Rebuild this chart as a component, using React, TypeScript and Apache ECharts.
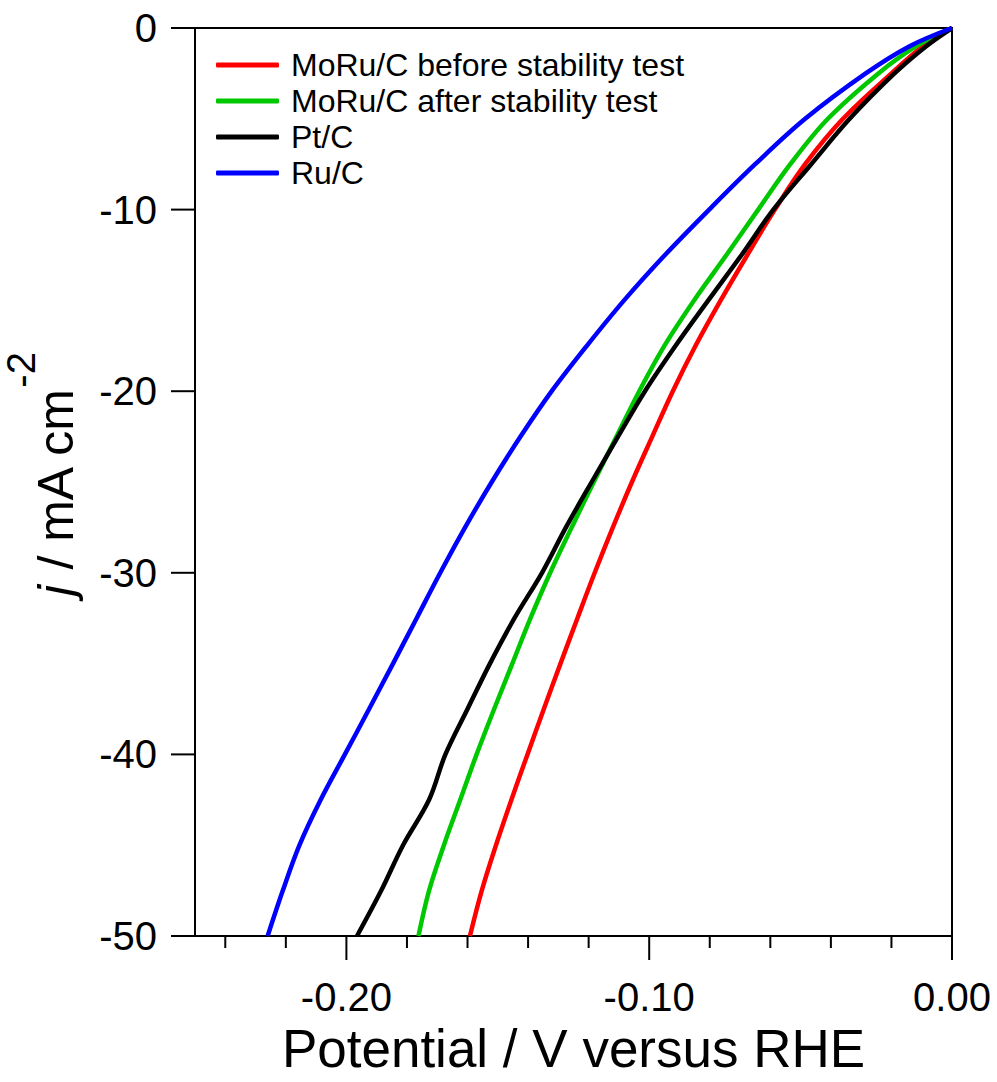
import React, { useEffect, useRef } from "react";
import * as echarts from "echarts";

const seriesNames = [
  "MoRu/C before stability test",
  "MoRu/C after stability test",
  "Pt/C",
  "Ru/C",
];
const seriesColors = ["#ff0000", "#00c800", "#000000", "#0000ff"];

// current density levels (mA cm^-2) at which the potentials were read
const currentJ = [0, -1, -2.5, -5, -7.5, -10, -12.5, -15, -17.5, -20, -22.5, -25, -27.5, -30, -32.5, -35, -37.5, -40, -42.5, -45, -47.5, -50];

// potentials (V vs RHE) for each curve at those current densities
const moruBeforeV = [0, -0.0095, -0.0200, -0.0360, -0.0485, -0.0585, -0.0676, -0.0764, -0.0847, -0.0922, -0.0990, -0.1057, -0.1120, -0.1180, -0.1237, -0.1293, -0.1348, -0.1402, -0.1455, -0.1506, -0.1553, -0.1592];
const moruAfterV = [0, -0.0118, -0.0243, -0.0410, -0.0534, -0.0640, -0.0745, -0.0852, -0.0950, -0.1033, -0.1108, -0.1183, -0.1256, -0.1327, -0.1392, -0.1452, -0.1512, -0.1570, -0.1624, -0.1678, -0.1727, -0.1762];
const ptcV = [0, -0.0085, -0.0190, -0.0338, -0.0465, -0.0590, -0.0695, -0.0805, -0.0913, -0.1014, -0.1103, -0.1190, -0.1275, -0.1354, -0.1445, -0.1526, -0.1600, -0.1673, -0.1727, -0.1813, -0.1885, -0.1965];
const rucV = [0, -0.0140, -0.0285, -0.0485, -0.0650, -0.0802, -0.0948, -0.1083, -0.1206, -0.1322, -0.1425, -0.1520, -0.1608, -0.1690, -0.1768, -0.1846, -0.1925, -0.2005, -0.2085, -0.2155, -0.2210, -0.2260];

const xMin = -0.25;
const xMax = 0;
const yMin = -50;
const yMax = 0;
const yInterval = 10;
const xMajorTicks = [-0.2, -0.1, 0];
const xMinorTicks = [-0.24, -0.22, -0.18, -0.16, -0.14, -0.12, -0.08, -0.06, -0.04, -0.02];
const yMajorTicks = [0, -10, -20, -30, -40, -50];

const FONT = "'Liberation Sans', Arial, sans-serif";

function pairs(v: number[], j: number[]) {
  return v.map((x, i) => [x, j[i]]);
}

function tickSeries(name: string, data: number[][], dx: number, dy: number) {
  return {
    name,
    type: "custom",
    xAxisIndex: 0,
    yAxisIndex: 0,
    clip: false,
    silent: true,
    z: 5,
    data,
    renderItem: (_params: any, api: any) => {
      const p = api.coord([api.value(0), api.value(1)]);
      return {
        type: "line",
        shape: { x1: p[0], y1: p[1], x2: p[0] + dx, y2: p[1] + dy },
        style: { stroke: "#000", lineWidth: 2 },
      };
    },
  };
}

export default function App() {
  const ref = useRef<HTMLDivElement>(null);
  useEffect(() => {
    document.body.style.margin = "0";
    const chart = echarts.init(ref.current!, null, { renderer: "svg" });
    const curves = [moruBeforeV, moruAfterV, ptcV, rucV].map((v) => pairs(v, currentJ));
    chart.setOption({
      animation: false,
      backgroundColor: "#ffffff",
      grid: {
        left: 195,
        right: 45,
        top: 28,
        bottom: 146,
        containLabel: false,
        outerBoundsMode: "none",
        show: true,
        borderColor: "#000",
        borderWidth: 2,
        backgroundColor: "transparent",
      },
      legend: {
        orient: "vertical",
        left: 216,
        top: 47,
        padding: 0,
        itemGap: 0,
        itemWidth: 63,
        itemHeight: 5,
        icon: "roundRect",
        data: seriesNames,
        textStyle: {
          fontSize: 32,
          lineHeight: 36,
          color: "#000",
          fontFamily: FONT,
          padding: [0, 0, 0, 7],
        },
      },
      xAxis: {
        type: "value",
        min: xMin,
        max: xMax,
        position: "bottom",
        axisLine: { show: true, onZero: false, lineStyle: { color: "#000", width: 2 } },
        axisTick: { show: false },
        axisLabel: {
          customValues: xMajorTicks,
          formatter: (v: number) => v.toFixed(2),
          fontSize: 40,
          color: "#000",
          fontFamily: FONT,
          margin: 41,
        },
        splitLine: { show: false },
        name: "Potential / V versus RHE",
        nameLocation: "middle",
        nameGap: 68,
        nameTextStyle: { fontSize: 53, color: "#000", fontFamily: FONT },
      },
      yAxis: {
        type: "value",
        min: yMin,
        max: yMax,
        interval: yInterval,
        axisLine: { show: true, onZero: false, lineStyle: { color: "#000", width: 2 } },
        axisTick: { show: false },
        axisLabel: { fontSize: 40, color: "#000", fontFamily: FONT, margin: 38 },
        splitLine: { show: false },
        name: "{i|j} / mA cm{s|-2}",
        nameLocation: "middle",
        nameGap: 84,
        nameTextStyle: {
          fontSize: 50,
          color: "#000",
          fontFamily: FONT,
          padding: [0, 0, 0, 16],
          rich: {
            i: { fontSize: 50, fontStyle: "italic", color: "#000", fontFamily: FONT },
            s: { fontSize: 40, color: "#000", fontFamily: FONT, padding: [0, 0, 70, 0] },
          },
        },
      },
      series: [
        ...curves.map((d, k) => ({
          name: seriesNames[k],
          type: "line",
          xAxisIndex: 0,
          yAxisIndex: 0,
          data: d,
          showSymbol: false,
          symbol: "none",
          smooth: 0.35,
          color: seriesColors[k],
          lineStyle: { color: seriesColors[k], width: 4.5 },
          z: 2,
        })),
        tickSeries("xMajorTicks", xMajorTicks.map((v) => [v, yMin]), 0, 24),
        tickSeries("xMinorTicks", xMinorTicks.map((v) => [v, yMin]), 0, 12),
        tickSeries("yMajorTicks", yMajorTicks.map((j) => [xMin, j]), -24, 0),
      ],
    });
    return () => chart.dispose();
  }, []);
  return <div ref={ref} style={{ width: 997, height: 1082 }} />;
}
